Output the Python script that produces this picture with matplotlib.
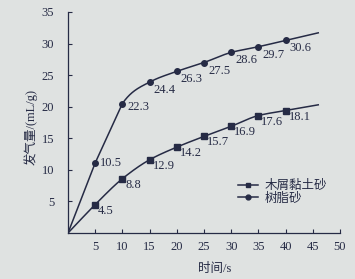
import numpy as np
import matplotlib
matplotlib.use("Agg")
import matplotlib.pyplot as plt
from matplotlib.lines import Line2D

# ---- data ----
time_s = [5, 10, 15, 20, 25, 30, 35, 40]
resin_values = [11.1, 20.5, 23.9, 25.6, 27.0, 28.6, 29.5, 30.5]
resin_labels = ["10.5", "22.3", "24.4", "26.3", "27.5", "28.6", "29.7", "30.6"]
wood_values = [4.5, 8.6, 11.6, 13.6, 15.3, 16.9, 18.6, 19.4]
wood_labels = ["4.5", "8.8", "12.9", "14.2", "15.7", "16.9", "17.6", "18.1"]
curve_end_time = 46
resin_end = 31.7
wood_end = 20.3
series_names = ["木屑黏土砂", "树脂砂"]
x_ticks = [5, 10, 15, 20, 25, 30, 35, 40, 45, 50]
y_ticks = [5, 10, 15, 20, 25, 30, 35]
x_label = "时间/s"
y_label = "发气量/(mL/g)"

BG = "#dfe2e1"
INK = "#262b45"
FONT = ["Liberation Serif", "Noto Sans CJK SC"]
plt.rcParams["font.family"] = FONT


def hermite(x, y, xs, m0=None):
    x = np.asarray(x, float)
    y = np.asarray(y, float)
    h = np.diff(x)
    d = np.diff(y) / h
    m = np.zeros_like(y)
    for k in range(1, len(x) - 1):
        if d[k - 1] * d[k] <= 0:
            m[k] = 0
        else:
            w1 = 2 * h[k] + h[k - 1]
            w2 = h[k] + 2 * h[k - 1]
            m[k] = (w1 + w2) / (w1 / d[k - 1] + w2 / d[k])
    m[0] = d[0] if m0 is None else m0
    m[-1] = d[-1]
    out = np.empty_like(xs)
    for i, xv in enumerate(xs):
        k = min(np.searchsorted(x, xv) - 1, len(h) - 1)
        k = max(k, 0)
        t = (xv - x[k]) / h[k]
        h00 = 2 * t**3 - 3 * t**2 + 1
        h10 = t**3 - 2 * t**2 + t
        h01 = -2 * t**3 + 3 * t**2
        h11 = t**3 - t**2
        out[i] = h00 * y[k] + h10 * h[k] * m[k] + h01 * y[k + 1] + h11 * h[k] * m[k + 1]
    return out


fig = plt.figure(figsize=(3.55, 2.79), dpi=100, facecolor=BG)
ax = fig.add_axes([68 / 355, 1 - 233 / 279, (340 - 68) / 355, (233 - 12) / 279])
ax.set_facecolor(BG)

# wood-clay sand: smooth curve through origin and all points
xs_w = [0] + time_s + [curve_end_time]
ys_w = [0] + wood_values + [wood_end]
xx = np.linspace(0, curve_end_time, 400)
ax.plot(xx, hermite(xs_w, ys_w, xx), color=INK, lw=1.1, zorder=2)
ax.plot(time_s, wood_values, ls="none", marker="s", ms=4.2, color=INK, zorder=3)

# resin sand: straight rise to the 10 s point, then a smooth bend
ax.plot([0] + time_s[:2], [0] + resin_values[:2], color=INK, lw=1.1, zorder=2)
xs_r = time_s[1:] + [curve_end_time]
ys_r = resin_values[1:] + [resin_end]
xr = np.linspace(time_s[1], curve_end_time, 400)
ax.plot(xr, hermite(xs_r, ys_r, xr, m0=1.25), color=INK, lw=1.1, zorder=2)
ax.plot(time_s, resin_values, ls="none", marker="o", ms=4.0, color=INK, zorder=3)

for i, (t, v, lab) in enumerate(zip(time_s, resin_values, resin_labels)):
    off = (5, 0) if i == 0 else ((5, -3) if i == 1 else (4, -8))
    ax.annotate(lab, (t, v), xytext=off, textcoords="offset pixels",
                ha="left", va="center", fontsize=9, color=INK)
for t, v, lab in zip(time_s, wood_values, wood_labels):
    ax.annotate(lab, (t, v), xytext=(3, -6), textcoords="offset pixels",
                ha="left", va="center", fontsize=9, color=INK)

ax.set_xlim(0, 50)
ax.set_ylim(0, 35)
ax.set_xticks(x_ticks)
ax.set_yticks(y_ticks)
ax.tick_params(direction="in", length=3, width=0.8, colors=INK, labelsize=9)
ax.tick_params(axis="y", pad=10)
ax.tick_params(axis="x", pad=6)
for s in ["top", "right"]:
    ax.spines[s].set_visible(False)
for s in ["left", "bottom"]:
    ax.spines[s].set_color(INK)
    ax.spines[s].set_linewidth(0.9)

ax.set_xlabel(x_label, fontsize=9, color=INK)
ax.xaxis.set_label_coords(0.54, -0.135)
ax.set_ylabel(y_label, fontsize=9, color=INK)
ax.yaxis.set_label_coords(-0.112, 0.48)

handles = [Line2D([0], [0], color=INK, lw=1.1, marker="s", ms=3.5),
           Line2D([0], [0], color=INK, lw=1.1, marker="o", ms=3.5)]
leg = ax.legend(handles, series_names, loc="upper left",
                bbox_to_anchor=(170 / 272, 1 - 168 / 221), frameon=False,
                fontsize=9, handlelength=1.6, handletextpad=0.5,
                labelspacing=0.05, borderpad=0, borderaxespad=0)
for t in leg.get_texts():
    t.set_color(INK)

fig.savefig("out.png", dpi=100, facecolor=BG)
